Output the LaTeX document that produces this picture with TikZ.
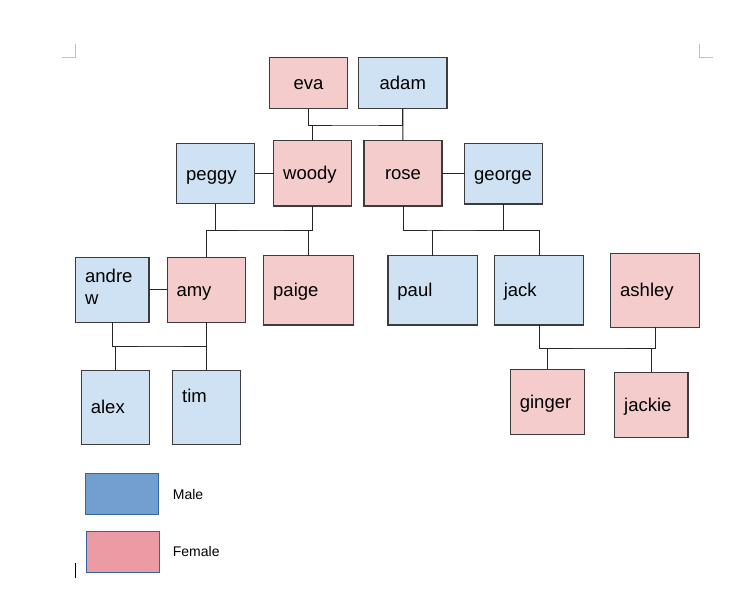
\documentclass[tikz,border=0pt]{standalone}
\usepackage{fontspec}
\setmainfont{Liberation Sans}
\definecolor{pinkfill}{HTML}{F4CCCC}
\definecolor{bluefill}{HTML}{CFE2F3}
\definecolor{boxgray}{HTML}{3C3C3C}
\definecolor{keyblue}{HTML}{3465A4}
\definecolor{malekey}{HTML}{729FCF}
\definecolor{femkey}{HTML}{EC9BA4}
\definecolor{pagemark}{HTML}{C0C0C0}
\begin{document}
\begin{tikzpicture}[x=1pt,y=-1pt,person/.style={draw=boxgray,line width=1.1pt,inner xsep=9.5pt,inner ysep=0pt,outer sep=0pt,text height=13pt,text depth=0pt,align=left,font=\fontsize{18.5}{21.3}\selectfont},fem/.style={person,fill=pinkfill},male/.style={person,fill=bluefill},link/.style={line width=1pt,black!85},key/.style={draw=keyblue,line width=1pt,inner sep=0pt,minimum width=73.4pt,minimum height=41pt},keytext/.style={anchor=base west,inner sep=0pt,font=\fontsize{14}{16}\selectfont},pagecorner/.style={pagemark,line width=1pt}]
\useasboundingbox (0,0) rectangle (745,597);
% generation 1
\node[fem,text width=59.4pt,minimum height=51.7pt,align=center] (eva) at (308.5,82.9) {eva};
\node[male,text width=69.3pt,minimum height=51.7pt,align=center] (adam) at (402.8,82.9) {adam};
% generation 2
\node[male,text width=59pt,minimum height=60pt] (peggy) at (215.7,173.7) {peggy};
\node[fem,text width=59pt,minimum height=65.3pt] (woody) at (312.7,173.3) {woody};
\node[fem,text width=59pt,minimum height=65.3pt,align=center] (rose) at (403,173.3) {rose};
\node[male,text width=59pt,minimum height=60.3pt] (george) at (503.7,173.8) {george};
% generation 3
\node[male,text width=54.3pt,minimum height=65pt,text depth=27pt] (andrew) at (112.3,289.8) {andre\\w};
\node[fem,text width=59.3pt,minimum height=65pt] (amy) at (206.2,289.8) {amy};
\node[fem,text width=70.6pt,minimum height=69.3pt] (paige) at (308.5,290.3) {paige};
\node[male,text width=70.7pt,minimum height=69.3pt] (paul) at (432.8,290.3) {paul};
\node[male,text width=70.4pt,minimum height=69.3pt] (jack) at (539,290.3) {jack};
\node[fem,text width=69.6pt,minimum height=73.7pt] (ashley) at (655,290.2) {ashley};
% generation 4
\node[male,text width=48.7pt,minimum height=74pt] (alex) at (115.2,407.3) {alex};
\node[male,text width=48.6pt,minimum height=74pt,text depth=23pt] (tim) at (206.5,407.3) {tim};
\node[fem,text width=54.7pt,minimum height=65pt] (ginger) at (547.2,401.8) {ginger};
\node[fem,text width=54.3pt,minimum height=65pt] (jackie) at (651.3,404.8) {jackie};
% family lines
\coordinate (evaadam) at (355,125);\coordinate (peggywoody) at (260,230);\coordinate (rosegeorge) at (450,230);\coordinate (andrewamy) at (160,346);\coordinate (jackashley) at (600,348);
\draw[link] (eva.south) |- (evaadam) -| (adam.south);\draw[link] (woody.north) -- (woody.north |- evaadam);\draw[link] (adam.south) -- (rose.north);
\draw[link] (peggy.east) -- (woody.west |- peggy.east);\draw[link] (rose.east) -- (george.west |- rose.east);\draw[link] (andrew.east) -- (amy.west);
\draw[link] (peggy.south) |- (peggywoody) -| (woody.south);\draw[link] (amy.north) |- (peggywoody) -| (paige.north);
\draw[link] (rose.south) |- (rosegeorge) -| (george.south);\draw[link] (paul.north) |- (rosegeorge) -| (jack.north);
\draw[link] (andrew.south) |- (andrewamy) -| (amy.south);\draw[link] (alex.north) |- (andrewamy) -| (tim.north);
\draw[link] (jack.south) |- (jackashley) -| (ashley.south);\draw[link] (ginger.north) |- (jackashley) -| (jackie.north);
% legend
\node[key,fill=malekey] (malebox) at (122,493.8) {};\node[keytext] (maletext) at (172.7,499) {Male};
\node[key,fill=femkey] (fembox) at (123,551.8) {};\node[keytext] (femtext) at (172.7,556.7) {Female};
% page marks
\draw[pagecorner] (62,57.3) -| (75.3,44);\draw[pagecorner] (712.7,57.3) -| (699.3,44);
\draw[line width=1pt] (75.3,563) -- (75.3,578);
\end{tikzpicture}
\end{document}
